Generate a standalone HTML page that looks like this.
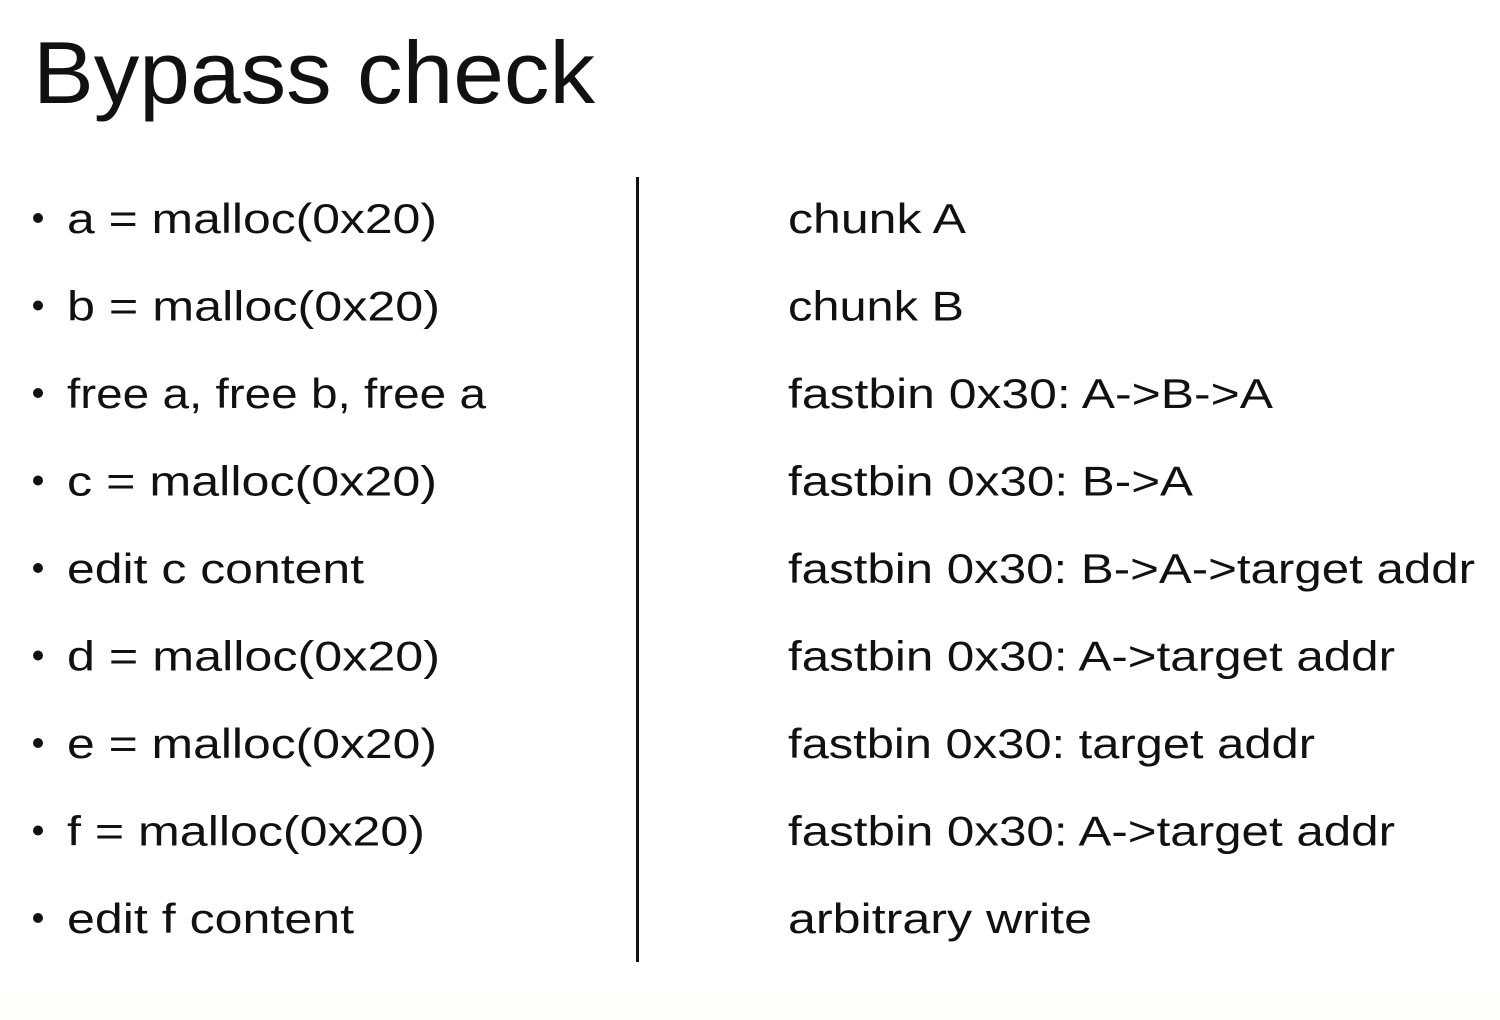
<!DOCTYPE html>
<html><head><meta charset="utf-8"><style>
html,body{margin:0;padding:0;background:#fff;}
svg{display:block;}
text{font-family:"Liberation Sans",sans-serif;fill:#111;}
</style></head><body>
<svg width="1500" height="1020" viewBox="0 0 1500 1020" xmlns="http://www.w3.org/2000/svg">
<rect x="0" y="0" width="1500" height="1020" fill="#fff"/>
<rect x="0" y="995" width="1500" height="25" fill="#fffef8"/>
<text x="33" y="103" font-size="88" textLength="562" lengthAdjust="spacingAndGlyphs">Bypass check</text>
<line x1="637.5" y1="177" x2="637.5" y2="962" stroke="#111" stroke-width="3"/>
<g font-size="42">
<circle cx="38" cy="218" r="5" fill="#111"/><text x="67" y="233" textLength="370" lengthAdjust="spacingAndGlyphs">a = malloc(0x20)</text>
<circle cx="38" cy="305.5" r="5" fill="#111"/><text x="67" y="320.5" textLength="373" lengthAdjust="spacingAndGlyphs">b = malloc(0x20)</text>
<circle cx="38" cy="393" r="5" fill="#111"/><text x="67" y="408" textLength="419" lengthAdjust="spacingAndGlyphs">free a, free b, free a</text>
<circle cx="38" cy="480.5" r="5" fill="#111"/><text x="67" y="495.5" textLength="370" lengthAdjust="spacingAndGlyphs">c = malloc(0x20)</text>
<circle cx="38" cy="568" r="5" fill="#111"/><text x="67" y="583" textLength="297" lengthAdjust="spacingAndGlyphs">edit c content</text>
<circle cx="38" cy="655.5" r="5" fill="#111"/><text x="67" y="670.5" textLength="373" lengthAdjust="spacingAndGlyphs">d = malloc(0x20)</text>
<circle cx="38" cy="743" r="5" fill="#111"/><text x="67" y="758" textLength="370" lengthAdjust="spacingAndGlyphs">e = malloc(0x20)</text>
<circle cx="38" cy="830.5" r="5" fill="#111"/><text x="67" y="845.5" textLength="358" lengthAdjust="spacingAndGlyphs">f = malloc(0x20)</text>
<circle cx="38" cy="918" r="5" fill="#111"/><text x="67" y="933" textLength="287" lengthAdjust="spacingAndGlyphs">edit f content</text>

<text x="788" y="233" textLength="178" lengthAdjust="spacingAndGlyphs">chunk A</text>
<text x="788" y="320.5" textLength="176" lengthAdjust="spacingAndGlyphs">chunk B</text>
<text x="788" y="408" textLength="485" lengthAdjust="spacingAndGlyphs">fastbin 0x30: A-&gt;B-&gt;A</text>
<text x="788" y="495.5" textLength="405" lengthAdjust="spacingAndGlyphs">fastbin 0x30: B-&gt;A</text>
<text x="788" y="583" textLength="687" lengthAdjust="spacingAndGlyphs">fastbin 0x30: B-&gt;A-&gt;target addr</text>
<text x="788" y="670.5" textLength="607" lengthAdjust="spacingAndGlyphs">fastbin 0x30: A-&gt;target addr</text>
<text x="788" y="758" textLength="527" lengthAdjust="spacingAndGlyphs">fastbin 0x30: target addr</text>
<text x="788" y="845.5" textLength="607" lengthAdjust="spacingAndGlyphs">fastbin 0x30: A-&gt;target addr</text>
<text x="788" y="933" textLength="304" lengthAdjust="spacingAndGlyphs">arbitrary write</text>
</g>
</svg>
</body></html>
